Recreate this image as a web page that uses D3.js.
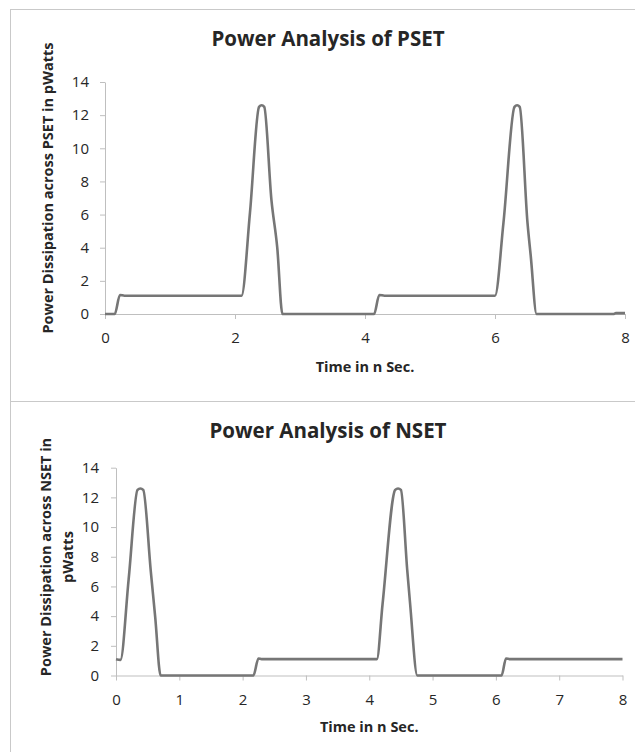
<!DOCTYPE html>
<html>
<head>
<meta charset="utf-8">
<script src="https://cdn.jsdelivr.net/npm/d3@7/dist/d3.min.js"></script>
<style>
  body { margin: 0; background: #fff; }
  svg text { font-family: 'Open Sans', Lato, sans-serif; fill: #262626; }
</style>
</head>
<body>
<svg id="chart" width="635" height="752"></svg>
<script>
// PSET panel, time in ns and power in pW
var psetTime = [0, 0.15, 0.23, 0.3, 2.1, 2.23, 2.37, 2.41, 2.45, 2.56, 2.65,
  2.73, 4.14, 4.22, 4.3, 6.0, 6.13, 6.3, 6.34, 6.38, 6.5, 6.55, 6.64, 7.82,
  7.86, 8];
var psetPower = [0, 0, 1.15, 1.1, 1.1, 6.1, 12.5, 12.6, 12.5, 6.9, 4.0,
  0, 0, 1.15, 1.1, 1.1, 5.5, 12.5, 12.6, 12.5, 5.5, 3.5, 0, 0,
  0.05, 0.05];

// NSET panel
var nsetTime = [0, 0.07, 0.2, 0.34, 0.385, 0.43, 0.55, 0.62, 0.705, 2.17,
  2.25, 2.3, 4.12, 4.21, 4.41, 4.455, 4.5, 4.6, 4.645, 4.76, 6.09, 6.16,
  6.22, 8];
var nsetPower = [1.1, 1.05, 6.5, 12.5, 12.6, 12.5, 7.0, 3.9, 0, 0,
  1.15, 1.1, 1.1, 4.8, 12.5, 12.6, 12.5, 7.1, 4.85, 0, 0, 1.15,
  1.1, 1.1];

var psetTimeTicks = [0, 2, 4, 6, 8];
var nsetTimeTicks = [0, 1, 2, 3, 4, 5, 6, 7, 8];
var powerTicks = [0, 2, 4, 6, 8, 10, 12, 14];

var AXIS_COLOR = '#bfbfbf';
var LINE_COLOR = '#767676';
var FRAME_COLOR = '#c9c9c9';

var svg = d3.select('#chart');

/**
 * Draws one chart panel: frame, title, axes and the power trace.
 * @param {!Object} params
 */
function drawPanel(params) {
  var g = svg.append('g');

  g.append('rect')
    .attr('x', params.frame[0] + 0.5)
    .attr('y', params.frame[1] + 0.5)
    .attr('width', params.frame[2])
    .attr('height', params.frame[3])
    .attr('fill', 'none')
    .attr('stroke', FRAME_COLOR)
    .attr('stroke-width', 1);

  var x = d3.scaleLinear().domain([0, 8]).range(params.xRange);
  var y = d3.scaleLinear().domain([0, 14]).range(params.yRange);

  g.append('text')
    .attr('x', params.titleX)
    .attr('y', params.titleY)
    .attr('text-anchor', 'middle')
    .attr('dominant-baseline', 'central')
    .style('font-size', '20.5px')
    .style('font-weight', 'bold')
    .text(params.title);

  var xAxis = g.append('g')
    .attr('transform', 'translate(0,' + params.yRange[0] + ')')
    .call(d3.axisBottom(x).tickValues(params.timeTicks).tickSize(5)
      .tickPadding(params.xPad).tickSizeOuter(0)
      .tickFormat(d3.format('d')));

  var yAxis = g.append('g')
    .attr('transform', 'translate(' + params.xRange[0] + ',0)')
    .call(d3.axisLeft(y).tickValues(powerTicks).tickSize(5)
      .tickPadding(params.yPad).tickSizeOuter(0)
      .tickFormat(d3.format('d')));

  [xAxis, yAxis].forEach(function(axis) {
    axis.attr('font-family', null).attr('font-size', null);
    axis.select('.domain').attr('stroke', AXIS_COLOR);
    axis.selectAll('.tick line').attr('stroke', AXIS_COLOR);
    axis.selectAll('.tick text')
      .attr('fill', '#262626')
      .style('font-size', '15px');
  });

  g.append('text')
    .attr('x', (params.xRange[0] + params.xRange[1]) / 2)
    .attr('y', params.xTitleY)
    .attr('text-anchor', 'middle')
    .attr('dominant-baseline', 'central')
    .style('font-size', '14.5px')
    .style('font-weight', 'bold')
    .text('Time in n Sec.');

  var yTitle = g.append('text')
    .attr('transform', 'translate(' + params.yTitleX + ',' +
      params.yTitleY + ') rotate(-90)')
    .attr('text-anchor', 'middle')
    .attr('dominant-baseline', 'central')
    .style('font-size', '14.5px')
    .style('font-weight', 'bold');
  params.yTitle.forEach(function(line, i) {
    yTitle.append('tspan')
      .attr('x', 0)
      .attr('y', i * params.yTitleGap)
      .text(line);
  });

  var points = params.time.map(function(t, i) {
    return [t, params.power[i]];
  });
  var line = d3.line()
    .x(function(d) { return x(d[0]); })
    .y(function(d) { return y(d[1]); })
    .curve(d3.curveMonotoneX);

  g.append('path')
    .attr('d', line(points))
    .attr('fill', 'none')
    .attr('stroke', LINE_COLOR)
    .attr('stroke-width', 2.6)
    .attr('stroke-linejoin', 'round');
}

drawPanel({
  frame: [10, 9, 640, 392],
  xRange: [105, 625],
  yRange: [314, 82],
  title: 'Power Analysis of PSET',
  titleX: 328,
  titleY: 38,
  timeTicks: psetTimeTicks,
  xPad: 13,
  yPad: 11,
  xTitleY: 366,
  yTitle: ['Power Dissipation across PSET in pWatts'],
  yTitleX: 47,
  yTitleY: 188,
  yTitleGap: 0,
  time: psetTime,
  power: psetPower
});

drawPanel({
  frame: [10, 401, 640, 360],
  xRange: [116, 622.5],
  yRange: [675.5, 467.7],
  title: 'Power Analysis of NSET',
  titleX: 328,
  titleY: 430,
  timeTicks: nsetTimeTicks,
  xPad: 14,
  yPad: 12,
  xTitleY: 726,
  yTitle: ['Power Dissipation across NSET in', 'pWatts'],
  yTitleX: 45,
  yTitleY: 557,
  yTitleGap: 22,
  time: nsetTime,
  power: nsetPower
});
</script>
</body>
</html>
